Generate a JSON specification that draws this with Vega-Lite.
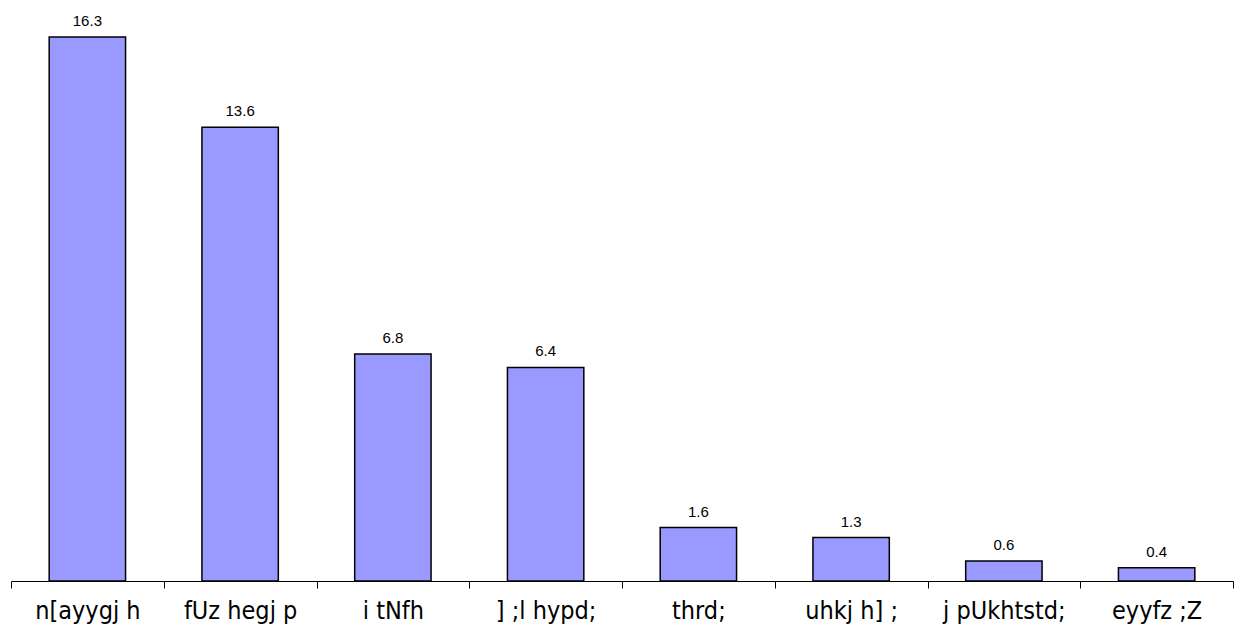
{
  "$schema": "https://vega.github.io/schema/vega-lite/v6.json",
  "autosize": "none",
  "width": 1222,
  "height": 581,
  "padding": {"left": 11, "top": 0, "right": 8, "bottom": 56},
  "background": "white",
  "data": {"values": [
    {"label": "n[ayygj h", "value": 16.3},
    {"label": "fUz hegj p", "value": 13.6},
    {"label": "i tNfh", "value": 6.8},
    {"label": "] ;l hypd;", "value": 6.4},
    {"label": "thrd;", "value": 1.6},
    {"label": "uhkj h] ;", "value": 1.3},
    {"label": "j pUkhtstd;", "value": 0.6},
    {"label": "eyyfz ;Z", "value": 0.4}
  ]},
  "config": {"view": {"stroke": null}},
  "encoding": {
    "x": {
      "field": "label", "type": "nominal", "sort": null,
      "scale": {"paddingInner": 0, "paddingOuter": 0},
      "axis": {
        "title": null, "labelAngle": 0, "tickBand": "extent",
        "domainColor": "#000000", "tickColor": "#000000", "tickSize": 7,
        "labelFont": "DejaVu Sans Condensed", "labelFontSize": 25, "labelColor": "#000000",
        "labelPadding": 10
      }
    },
    "y": {
      "field": "value", "type": "quantitative",
      "scale": {"domain": [0, 17.41], "nice": false, "zero": true},
      "axis": null
    }
  },
  "layer": [
    {"mark": {"type": "bar", "width": {"band": 0.5}, "color": "#9999FF", "stroke": "#000000", "strokeWidth": 1.5}},
    {
      "mark": {"type": "text", "baseline": "bottom", "dy": -8, "font": "Liberation Sans", "fontSize": 15, "color": "#000000"},
      "encoding": {"text": {"field": "value", "type": "quantitative", "format": ".1f"}}
    }
  ]
}
